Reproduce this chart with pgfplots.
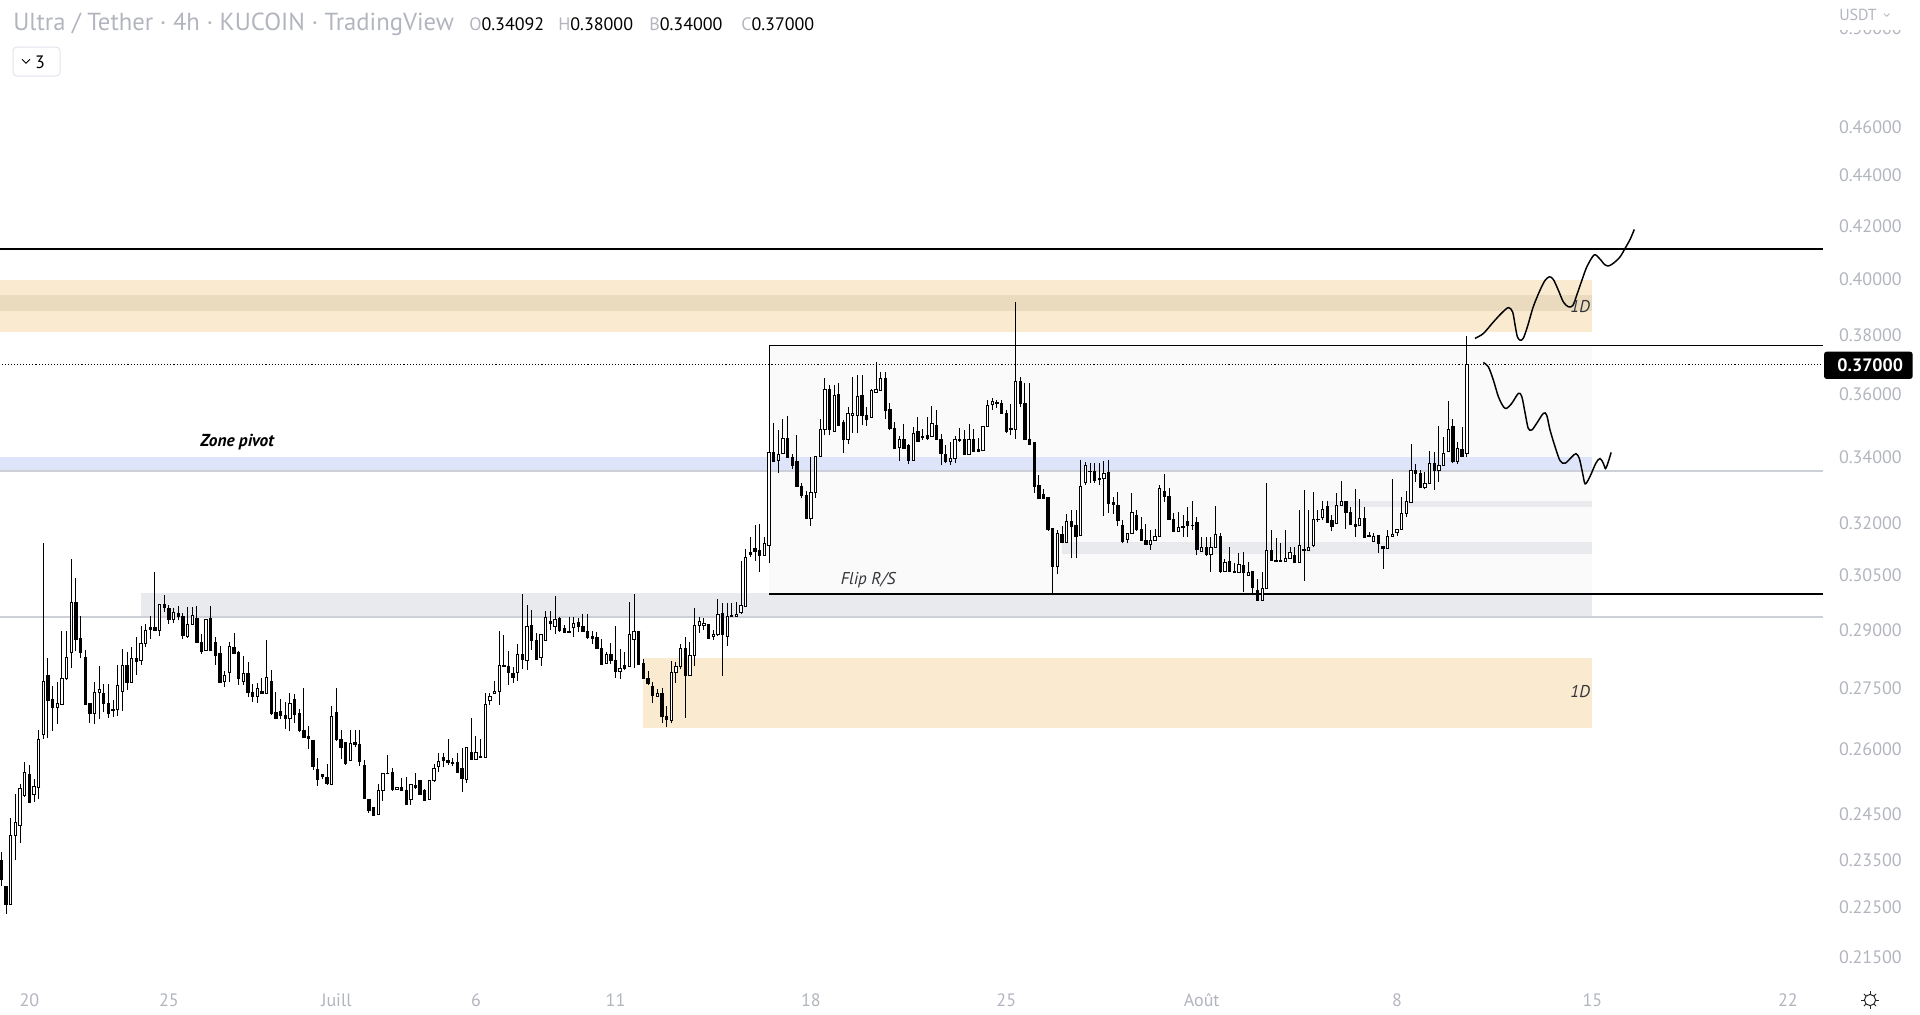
\documentclass[border=0pt]{standalone}
\usepackage{pgfplots}
\pgfplotsset{compat=1.18}
\usepackage{pgfplotstable}
\usepackage{fontspec}
\setmainfont{PT Sans}
\definecolor{tvgray}{RGB}{178,181,190}
\definecolor{zoneor}{RGB}{250,235,208}
\definecolor{zoneord}{RGB}{234,219,190}
\definecolor{zonebl}{RGB}{222,228,250}
\definecolor{zonegr}{RGB}{233,234,237}
\definecolor{rectlt}{RGB}{250,250,250}
\definecolor{linegr}{RGB}{205,208,214}
\definecolor{txtdark}{RGB}{50,52,58}
\definecolor{boxgr}{RGB}{224,227,235}

\pgfplotstableread{
k o h l c
-6 .2349 .2366 .2295 .2309
-5 .2294 .2294 .2237 .2255
-4 .2255 .2441 .2255 .2404
-3 .2402 .2496 .2349 .2432
-2 .2424 .2518 .2386 .2509
-1 .2493 .2570 .2490 .2547
0 .2542 .2563 .2475 .2476
1 .2495 .2530 .2478 .2513
2 .2512 .2646 .2485 .2625
3 .2637 .3141 .2625 .2768
4 .2782 .2827 .2627 .2720
5 .2723 .2756 .2645 .2703
6 .2703 .2765 .2662 .2711
7 .2710 .2898 .2707 .2775
8 .2774 .2898 .2771 .2830
9 .2842 .3096 .2801 .2974
10 .2974 .3042 .2846 .2877
11 .2878 .2938 .2827 .2843
12 .2830 .2848 .2709 .2710
13 .2711 .2711 .2665 .2688
14 .2688 .2765 .2662 .2740
15 .2740 .2807 .2673 .2746
16 .2736 .2761 .2690 .2711
17 .2713 .2761 .2677 .2688
18 .2698 .2721 .2679 .2694
19 .2696 .2809 .2682 .2758
20 .2742 .2851 .2694 .2807
21 .2807 .2842 .2746 .2764
22 .2764 .2856 .2764 .2827
23 .2827 .2882 .2784 .2819
24 .2820 .2912 .2810 .2866
25 .2866 .2918 .2855 .2901
26 .2909 .2938 .2878 .2902
27 .2909 .3060 .2899 .2899
28 .2900 .2969 .2884 .2969
29 .2969 .2996 .2950 .2962
30 .2960 .2967 .2918 .2930
31 .2930 .2959 .2919 .2947
32 .2946 .2966 .2927 .2937
33 .2937 .2946 .2876 .2887
34 .2885 .2962 .2880 .2916
35 .2916 .2962 .2914 .2939
36 .2932 .2966 .2868 .2868
37 .2868 .2890 .2838 .2845
38 .2847 .2929 .2847 .2929
39 .2931 .2966 .2846 .2848
40 .2867 .2882 .2810 .2833
41 .2838 .2858 .2764 .2765
42 .2767 .2793 .2753 .2782
43 .2790 .2870 .2765 .2858
44 .2856 .2892 .2838 .2838
45 .2841 .2847 .2759 .2774
46 .2768 .2832 .2759 .2787
47 .2787 .2817 .2728 .2739
48 .2740 .2762 .2715 .2729
49 .2729 .2764 .2714 .2749
50 .2743 .2776 .2737 .2737
51 .2738 .2875 .2738 .2778
52 .2768 .2797 .2684 .2688
53 .2689 .2740 .2673 .2674
54 .2691 .2724 .2673 .2682
55 .2683 .2717 .2649 .2674
56 .2676 .2738 .2644 .2713
57 .2723 .2735 .2664 .2684
58 .2688 .2698 .2642 .2645
59 .2646 .2752 .2629 .2629
60 .2631 .2656 .2600 .2627
61 .2621 .2622 .2552 .2560
62 .2554 .2581 .2515 .2530
63 .2542 .2542 .2530 .2536
64 .2535 .2566 .2517 .2520
65 .2519 .2706 .2516 .2680
66 .2690 .2751 .2620 .2624
67 .2625 .2646 .2577 .2605
68 .2618 .2618 .2563 .2568
69 .2575 .2646 .2575 .2615
70 .2618 .2646 .2605 .2613
71 .2613 .2646 .2560 .2572
72 .2563 .2576 .2485 .2486
73 .2484 .2484 .2452 .2458
74 .2466 .2466 .2447 .2448
75 .2449 .2519 .2449 .2504
76 .2504 .2544 .2481 .2543
77 .2543 .2587 .2543 .2544
78 .2545 .2557 .2503 .2506
79 .2507 .2512 .2507 .2512
80 .2512 .2534 .2503 .2503
81 .2503 .2536 .2472 .2472
82 .2484 .2518 .2472 .2518
83 .2515 .2544 .2508 .2510
84 .2528 .2528 .2494 .2495
85 .2503 .2507 .2480 .2482
86 .2483 .2528 .2482 .2526
87 .2526 .2566 .2524 .2556
88 .2561 .2591 .2547 .2572
89 .2582 .2591 .2558 .2573
90 .2575 .2625 .2564 .2570
91 .2570 .2580 .2560 .2566
92 .2569 .2591 .2544 .2546
93 .2556 .2603 .2500 .2531
94 .2530 .2607 .2522 .2605
95 .2592 .2676 .2575 .2577
96 .2577 .2632 .2575 .2592
97 .2584 .2626 .2579 .2580
98 .2581 .2738 .2581 .2710
99 .2719 .2739 .2707 .2729
100 .2738 .2768 .2736 .2742
101 .2742 .2898 .2709 .2809
102 .2809 .2888 .2805 .2805
103 .2805 .2846 .2759 .2790
104 .2787 .2804 .2763 .2777
105 .2791 .2864 .2769 .2837
106 .2837 .2998 .2798 .2825
107 .2821 .2967 .2797 .2911
108 .2914 .2954 .2849 .2872
109 .2874 .2892 .2824 .2825
110 .2828 .2890 .2808 .2888
111 .2873 .2952 .2873 .2935
112 .2925 .2952 .2902 .2919
113 .2911 .2993 .2891 .2930
114 .2931 .2936 .2896 .2899
115 .2904 .2915 .2894 .2895
116 .2898 .2937 .2894 .2895
117 .2907 .2937 .2882 .2919
118 .2920 .2932 .2897 .2911
119 .2911 .2944 .2895 .2897
120 .2898 .2944 .2878 .2882
121 .2885 .2898 .2865 .2878
122 .2880 .2896 .2851 .2851
123 .2852 .2878 .2812 .2812
124 .2813 .2842 .2812 .2837
125 .2837 .2866 .2812 .2822
126 .2822 .2912 .2777 .2794
127 .2794 .2852 .2774 .2801
128 .2809 .2842 .2797 .2800
129 .2805 .2977 .2805 .2890
130 .2877 .2998 .2802 .2897
131 .2898 .2898 .2810 .2810
132 .2813 .2826 .2775 .2775
133 .2776 .2794 .2759 .2763
134 .2754 .2765 .2712 .2733
135 .2729 .2749 .2729 .2738
136 .2738 .2752 .2663 .2680
137 .2681 .2706 .2654 .2673
138 .2670 .2820 .2663 .2791
139 .2791 .2817 .2763 .2806
140 .2806 .2865 .2798 .2852
141 .2852 .2882 .2677 .2782
142 .2783 .2870 .2783 .2834
143 .2833 .2960 .2808 .2914
144 .2914 .2935 .2894 .2923
145 .2914 .2932 .2901 .2919
146 .2917 .2917 .2877 .2878
147 .2885 .2901 .2874 .2890
148 .2889 .2984 .2886 .2942
149 .2944 .2975 .2782 .2888
150 .2885 .2974 .2860 .2938
151 .2937 .2973 .2937 .2939
152 .2937 .2977 .2937 .2943
153 .2948 .3090 .2944 .2966
154 .2964 .3124 .2964 .3101
155 .3116 .3159 .3103 .3108
156 .3125 .3194 .3090 .3118
157 .3119 .3197 .3060 .3106
158 .3106 .3158 .3106 .3141
159 .3136 .3767 .3084 .3414
160 .3414 .3508 .3385 .3387
161 .3389 .3485 .3349 .3407
162 .3410 .3519 .3408 .3458
163 .3458 .3530 .3397 .3397
164 .3398 .3408 .3362 .3372
165 .3384 .3470 .3308 .3308
166 .3308 .3319 .3273 .3281
167 .3281 .3294 .3211 .3214
168 .3214 .3400 .3192 .3291
169 .3291 .3402 .3275 .3402
170 .3400 .3519 .3400 .3487
171 .3487 .3654 .3468 .3617
172 .3617 .3631 .3468 .3485
173 .3480 .3631 .3480 .3598
174 .3601 .3639 .3498 .3501
175 .3510 .3517 .3412 .3455
176 .3455 .3558 .3439 .3538
177 .3530 .3657 .3474 .3538
178 .3532 .3666 .3474 .3594
179 .3596 .3666 .3500 .3532
180 .3533 .3558 .3499 .3519
181 .3524 .3617 .3524 .3615
182 .3607 .3708 .3607 .3617
183 .3615 .3674 .3615 .3652
184 .3654 .3674 .3519 .3549
185 .3551 .3571 .3485 .3489
186 .3491 .3511 .3424 .3426
187 .3428 .3467 .3387 .3456
188 .3456 .3504 .3424 .3426
189 .3437 .3440 .3377 .3388
190 .3390 .3496 .3390 .3473
191 .3480 .3526 .3446 .3448
192 .3464 .3489 .3453 .3460
193 .3466 .3526 .3453 .3457
194 .3464 .3562 .3463 .3506
195 .3501 .3549 .3453 .3456
196 .3453 .3472 .3374 .3410
197 .3407 .3437 .3380 .3386
198 .3386 .3447 .3374 .3395
199 .3395 .3467 .3380 .3453
200 .3451 .3490 .3448 .3453
201 .3453 .3486 .3406 .3406
202 .3408 .3503 .3408 .3455
203 .3454 .3488 .3417 .3417
204 .3423 .3458 .3417 .3417
205 .3419 .3496 .3419 .3496
206 .3496 .3582 .3496 .3565
207 .3566 .3588 .3551 .3578
208 .3571 .3582 .3555 .3573
209 .3571 .3582 .3538 .3538
210 .3538 .3551 .3474 .3479
211 .3490 .3569 .3468 .3485
212 .3485 .3918 .3457 .3645
213 .3642 .3657 .3560 .3569
214 .3569 .3639 .3453 .3455
215 .3456 .3639 .3437 .3440
216 .3446 .3446 .3290 .3308
217 .3313 .3344 .3271 .3273
218 .3285 .3303 .3271 .3273
219 .3277 .3277 .3177 .3180
220 .3185 .3185 .3000 .3074
221 .3074 .3180 .3053 .3170
222 .3166 .3190 .3141 .3144
223 .3144 .3227 .3141 .3204
224 .3204 .3238 .3098 .3190
225 .3194 .3238 .3098 .3162
226 .3163 .3390 .3163 .3310
227 .3321 .3385 .3313 .3374
228 .3354 .3382 .3321 .3356
229 .3354 .3380 .3321 .3327
230 .3334 .3380 .3313 .3331
231 .3334 .3388 .3221 .3349
232 .3351 .3390 .3230 .3258
233 .3260 .3276 .3226 .3255
234 .3253 .3293 .3190 .3207
235 .3192 .3209 .3141 .3145
236 .3152 .3170 .3141 .3170
237 .3170 .3288 .3170 .3231
238 .3223 .3238 .3178 .3180
239 .3180 .3219 .3148 .3148
240 .3148 .3196 .3136 .3139
241 .3139 .3180 .3122 .3150
242 .3150 .3182 .3148 .3162
243 .3160 .3313 .3160 .3303
244 .3295 .3347 .3262 .3279
245 .3280 .3305 .3209 .3210
246 .3210 .3230 .3175 .3175
247 .3175 .3233 .3173 .3188
248 .3188 .3223 .3160 .3189
249 .3204 .3246 .3160 .3194
250 .3194 .3265 .3180 .3192
251 .3202 .3219 .3107 .3124
252 .3118 .3158 .3117 .3130
253 .3130 .3158 .3106 .3110
254 .3110 .3158 .3059 .3130
255 .3130 .3250 .3130 .3167
256 .3160 .3170 .3058 .3060
257 .3060 .3095 .3060 .3086
258 .3088 .3130 .3060 .3060
259 .3060 .3084 .3058 .3059
260 .3059 .3112 .3059 .3080
261 .3079 .3115 .3003 .3059
262 .3050 .3087 .3050 .3057
263 .3062 .3062 .2998 .3015
264 .3009 .3039 .2982 .2982
265 .2982 .3060 .2982 .3014
266 .3014 .3321 .3014 .3121
267 .3121 .3180 .3091 .3091
268 .3092 .3155 .3090 .3090
269 .3092 .3141 .3090 .3090
270 .3090 .3180 .3090 .3097
271 .3097 .3131 .3097 .3115
272 .3106 .3131 .3087 .3087
273 .3087 .3238 .3087 .3135
274 .3121 .3298 .3034 .3123
275 .3122 .3238 .3122 .3130
276 .3135 .3291 .3130 .3211
277 .3209 .3238 .3204 .3211
278 .3215 .3265 .3209 .3241
279 .3250 .3266 .3202 .3202
280 .3206 .3223 .3176 .3190
281 .3199 .3288 .3199 .3253
282 .3253 .3326 .3253 .3265
283 .3265 .3266 .3183 .3230
284 .3232 .3248 .3196 .3196
285 .3196 .3301 .3160 .3190
286 .3193 .3271 .3190 .3214
287 .3214 .3246 .3158 .3158
288 .3164 .3174 .3158 .3160
289 .3147 .3170 .3144 .3160
290 .3165 .3165 .3114 .3141
291 .3131 .3131 .3069 .3127
292 .3127 .3180 .3127 .3160
293 .3160 .3332 .3160 .3167
294 .3173 .3182 .3163 .3182
295 .3182 .3278 .3182 .3228
296 .3228 .3295 .3219 .3265
297 .3261 .3439 .3261 .3359
298 .3359 .3378 .3322 .3349
299 .3349 .3359 .3306 .3306
300 .3306 .3354 .3300 .3319
301 .3319 .3418 .3319 .3380
302 .3380 .3416 .3298 .3359
303 .3359 .3498 .3322 .3374
304 .3372 .3464 .3372 .3410
305 .3416 .3579 .3416 .3487
306 .3496 .3519 .3380 .3385
307 .3385 .3448 .3378 .3426
308 .3423 .3496 .3400 .3400
309 .34092 .38000 .34000 .37000
}\candles

\begin{document}
\begin{tikzpicture}
\begin{axis}[
  at={(0pt,0pt)}, anchor=north west,
  scale only axis, width=1367.25pt, height=735pt,
  xmin=-1.053, xmax=64.26,
  ymode=log, ymin=0.21048, ymax=0.5168,
  axis line style={draw=none}, tick style={draw=none},
  major tick length=0pt,
  xtick={0,5,11,16,21,28,35,42,49,56,63},
  xticklabels={20,25,Juill,6,11,18,25,Août,8,15,22},
  ytick={0.215,0.225,0.235,0.245,0.26,0.275,0.29,0.305,0.32,0.34,0.36,0.38,0.40,0.42,0.44,0.46},
  yticklabels={0.21500,0.22500,0.23500,0.24500,0.26000,0.27500,0.29000,0.30500,0.32000,0.34000,0.36000,0.38000,0.40000,0.42000,0.44000,0.46000},
  yticklabel pos=right,
  yticklabel style={anchor=east, xshift=59.25pt, inner sep=0pt, font=\fontsize{13.5}{16}\selectfont, text=tvgray},
  xticklabel style={anchor=center, yshift=-15pt, inner sep=0pt, font=\fontsize{13.5}{16}\selectfont, text=tvgray},
  unbounded coords=discard,
]
% zones
\addplot[fill=rectlt, draw=none, forget plot] coordinates {(26.5,0.2998) (56,0.2998) (56,0.3766) (26.5,0.3766)} -- cycle;
\addplot[fill=zoneor, draw=none, forget plot] coordinates {(-1.1,0.3812) (56,0.3812) (56,0.3998) (-1.1,0.3998)} -- cycle;
\addplot[fill=zoneord, draw=none, forget plot] coordinates {(-1.1,0.3887) (56,0.3887) (56,0.3943) (-1.1,0.3943)} -- cycle;
\addplot[fill=zonebl, draw=none, forget plot] coordinates {(-1.1,0.3356) (56,0.3356) (56,0.3399) (-1.1,0.3399)} -- cycle;
\addplot[fill=zonegr, draw=none, forget plot] coordinates {(4,0.2936) (56,0.2936) (56,0.3001) (4,0.3001)} -- cycle;
\addplot[fill=zonegr, draw=none, forget plot] coordinates {(46.5,0.3247) (56,0.3247) (56,0.3265) (46.5,0.3265)} -- cycle;
\addplot[fill=zonegr, draw=none, forget plot] coordinates {(37,0.3110) (56,0.3110) (56,0.3145) (37,0.3145)} -- cycle;
\addplot[fill=zoneor, draw=none, forget plot] coordinates {(22,0.2652) (56,0.2652) (56,0.2828) (22,0.2828)} -- cycle;
% lines
\addplot[linegr, line width=1pt, forget plot] coordinates {(-1.1,0.3356) (64.3,0.3356)};
\addplot[linegr, line width=1pt, forget plot] coordinates {(-1.1,0.2936) (64.3,0.2936)};
\addplot[black, line width=1pt, forget plot] coordinates {(-1.1,0.4114) (64.3,0.4114)};
\addplot[black, line width=1pt, forget plot] coordinates {(26.5,0.3766) (64.3,0.3766)};
\addplot[black, line width=1pt, forget plot] coordinates {(26.5,0.2998) (64.3,0.2998)};
\addplot[black, line width=0.9pt, dash pattern=on 0.8pt off 1.5pt, forget plot] coordinates {(-1.1,0.37) (64.3,0.37)};
% candles: wicks
\addplot[draw=none, mark=none, forget plot,
  error bars/.cd, y dir=plus, y explicit, error mark=none,
  error bar style={draw=black, line width=0.75pt}]
  table[x expr=\thisrow{k}/6, y=l, y error plus expr=\thisrow{h}-\thisrow{l}] {\candles};
% bodies
\addplot[draw=none, mark=none, forget plot,
  error bars/.cd, y dir=plus, y explicit, error mark=none,
  error bar style={draw=black, line width=2.5pt}]
  table[x expr=\thisrow{k}/6, y expr={min(\thisrow{o},\thisrow{c})}, y error plus expr={abs(\thisrow{c}-\thisrow{o})}] {\candles};
% hollow inside of rising candles
\addplot[draw=none, mark=none, forget plot,
  error bars/.cd, y dir=plus, y explicit, error mark=none,
  error bar style={draw=white, line width=1.0pt}]
  table[x expr=\thisrow{k}/6, y expr={\thisrow{c}>\thisrow{o} ? \thisrow{o} : nan}, y error plus expr={\thisrow{c}-\thisrow{o}}] {\candles};
% open / close edges
\addplot[only marks, mark=-, mark size=1.25pt, mark options={draw=black, line width=0.75pt}, forget plot]
  table[x expr=\thisrow{k}/6, y=o] {\candles};
\addplot[only marks, mark=-, mark size=1.25pt, mark options={draw=black, line width=0.75pt}, forget plot]
  table[x expr=\thisrow{k}/6, y=c] {\candles};
% projected paths
\addplot[black, line width=1.1pt, smooth, tension=0.5, forget plot] coordinates {
(51.79,0.3790) (52.09,0.3807) (52.45,0.3848) (52.75,0.3880) (52.99,0.3899) (53.14,0.3883) (53.23,0.3836) (53.31,0.3796) (53.41,0.3784) (53.52,0.3790) (53.67,0.3831) (53.88,0.3902) (54.12,0.3961) (54.30,0.3997) (54.46,0.4010) (54.60,0.4000) (54.78,0.3961) (54.96,0.3919) (55.14,0.3902) (55.30,0.3907) (55.44,0.3944) (55.62,0.3997) (55.80,0.4047) (56.06,0.4091) (56.25,0.4078) (56.43,0.4056) (56.57,0.4050) (56.75,0.4060) (56.99,0.4084) (57.17,0.4116) (57.35,0.4150) (57.50,0.4188)};
\addplot[black, line width=1.1pt, smooth, tension=0.5, forget plot] coordinates {
(52.09,0.3707) (52.27,0.3693) (52.45,0.3648) (52.63,0.3593) (52.81,0.3560) (52.93,0.3555) (53.11,0.3571) (53.35,0.3604) (53.47,0.3593) (53.59,0.3538) (53.70,0.3490) (53.83,0.3485) (54.00,0.3506) (54.24,0.3538) (54.36,0.3533) (54.48,0.3485) (54.66,0.3432) (54.84,0.3388) (55.02,0.3380) (55.26,0.3400) (55.41,0.3410) (55.53,0.3395) (55.65,0.3349) (55.74,0.3317) (55.91,0.3339) (56.12,0.3380) (56.27,0.3395) (56.39,0.3380) (56.47,0.3364) (56.57,0.3385) (56.67,0.3414)};
% labels
\node[font=\fontsize{13}{15}\selectfont\bfseries\itshape, text=black] at (axis cs:7.44,0.3447) {Zone pivot};
\node[font=\fontsize{12.8}{15}\selectfont\itshape, text=txtdark] at (axis cs:30.05,0.3037) {Flip R/S};
\node[font=\fontsize{12.8}{15}\selectfont\itshape, text=txtdark] at (axis cs:55.56,0.3902) {1D};
\node[font=\fontsize{12.8}{15}\selectfont\itshape, text=txtdark] at (axis cs:55.56,0.2741) {1D};
\end{axis}
% header
\node[anchor=west, inner sep=0pt, font=\fontsize{18.5}{22}\selectfont, text=tvgray] at (9.75pt,-18.4pt) {Ultra / Tether · 4h · KUCOIN · TradingView};
\node[anchor=west, inner sep=0pt, font=\fontsize{13.5}{16}\selectfont] at (351.75pt,-18.4pt) {\textcolor{tvgray}{O}0.34092};
\node[anchor=west, inner sep=0pt, font=\fontsize{13.5}{16}\selectfont] at (418.5pt,-18.4pt) {\textcolor{tvgray}{H}0.38000};
\node[anchor=west, inner sep=0pt, font=\fontsize{13.5}{16}\selectfont] at (486.75pt,-18.4pt) {\textcolor{tvgray}{B}0.34000};
\node[anchor=west, inner sep=0pt, font=\fontsize{13.5}{16}\selectfont] at (555.75pt,-18.4pt) {\textcolor{tvgray}{C}0.37000};
\draw[boxgr, line width=0.75pt, rounded corners=3pt] (9.75pt,-35.25pt) rectangle (45pt,-57pt);
\draw[black, line width=0.7pt] (16.5pt,-44.5pt) -- (19.5pt,-47.5pt) -- (22.5pt,-44.5pt);
\node[anchor=center, inner sep=0pt, font=\fontsize{13.5}{16}\selectfont] at (30pt,-46.5pt) {3};
% partly hidden top label
\begin{scope}
\clip (1370pt,-22.5pt) rectangle (1440pt,-30pt);
\node[anchor=east, inner sep=0pt, font=\fontsize{13.5}{16}\selectfont, text=tvgray] at (1426.5pt,-21.5pt) {0.50000};
\end{scope}
\node[anchor=west, inner sep=0pt, font=\fontsize{12}{14}\selectfont, text=tvgray] at (1379.25pt,-11.2pt) {USDT};
\draw[tvgray, line width=0.6pt] (1413pt,-10.2pt) -- (1415pt,-12.2pt) -- (1417pt,-10.2pt);
% current price label
\fill[black, rounded corners=2pt] (1368pt,-263.8pt) rectangle (1434.5pt,-284.2pt);
\node[anchor=east, inner sep=0pt, font=\fontsize{13.5}{16}\selectfont\bfseries, text=white] at (1427.5pt,-274pt) {0.37000};
% settings icon
\draw[black!85, line width=0.75pt] (1402.5pt,-750pt) circle (4.2pt);
\foreach \a in {0,45,...,315} {\draw[black!85, line width=0.75pt] (1402.5pt,-750pt) ++(\a:4.2pt) -- ++(\a:2.2pt);}
\pgfresetboundingbox
\path[use as bounding box] (0pt,0pt) rectangle (1440pt,-760.5pt);
\end{tikzpicture}
\end{document}
